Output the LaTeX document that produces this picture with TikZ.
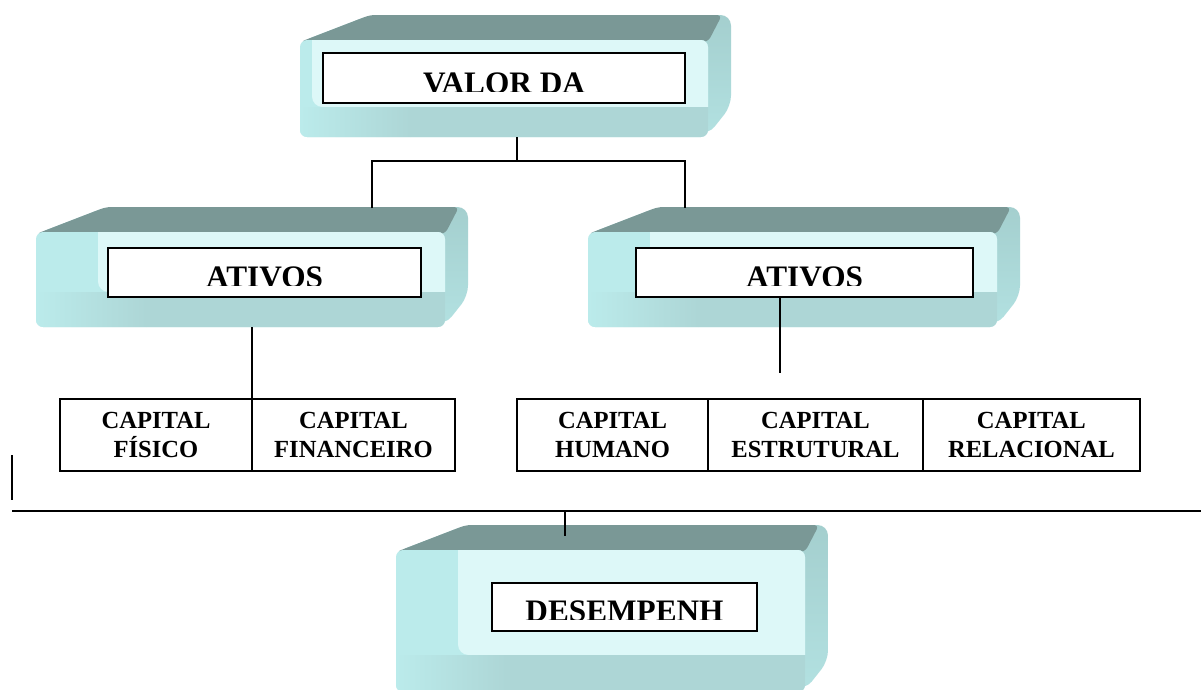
\documentclass[tikz,border=0pt]{standalone}
\usepackage{fontspec}
\setmainfont{Liberation Serif}
\usepackage{tikz}
\usetikzlibrary{positioning}
\definecolor{slabtop}{HTML}{7A9896}
\definecolor{slabside}{HTML}{B2E1E1}
\definecolor{slabbase}{HTML}{BBEBEB}
\definecolor{slablight}{HTML}{DDF8F8}
\definecolor{slabband}{HTML}{ADD6D6}
\tikzset{
  slabfront/.style={rectangle, rounded corners=4pt, fill=slabbase, inner sep=0pt, outer sep=0pt},
  namebox/.style={rectangle, draw=black, line width=1.1pt, fill=white, inner sep=0pt},
  title/.style={font=\fontsize{17.8}{20}\selectfont\bfseries, inner sep=0pt},
  cell/.style={
    rectangle,
    draw=black,
    line width=0.9pt,
    fill=white,
    align=center,
    inner sep=0pt,
    outer sep=0pt,
    minimum height=1.44cm,
    font=\fontsize{14}{16}\selectfont\bfseries
  },
  link/.style={draw=black, line width=0.9pt}
}
% 3-d slab: name, x1, y1, x2, y2, start of light face, top of lower band
\newcommand{\slab}[7]{%
  \shade[top color=slabside!75!slabtop, bottom color=slabside, rounded corners=6pt]
    (#2,#3+2) -- (#2+70,#3-25) -- (#4+23,#3-25) -- (#4+23,#5-31) -- (#4,#5-2) -- cycle;
  \fill[slabtop, rounded corners=3pt]
    (#2,#3+2) -- (#2+70,#3-25) -- (#4+14,#3-25) -- (#4,#3+2) -- cycle;
  \node[slabfront, minimum width=(#4-#2)*0.02cm, minimum height=(#5-#3)*0.02cm]
    (#1) at ({(#2+#4)/2},{(#3+#5)/2}) {};
  \begin{scope}
    \clip[rounded corners=4pt] (#2,#3) rectangle (#4,#5);
    \fill[slablight, rounded corners=6pt] (#6,#3-20) rectangle (#4+20,#7);
    \shade[left color=slabbase, right color=slabband] (#2,#7) rectangle (#2+110,#5+5);
    \fill[slabband] (#2+110,#7) rectangle (#4+5,#5+5);
  \end{scope}
}
% title cut off just above its baseline
\newcommand{\cuttitle}[2]{%
  \begin{scope}
    \clip (#1.north west) rectangle ([yshift=0.25cm]#1.south east);
    \node[title, anchor=base] (#1Text) at ([yshift=0.2cm]#1.south) {#2};
  \end{scope}
}

\begin{document}
\begin{tikzpicture}[x=0.02cm,y=-0.02cm]
\useasboundingbox (0,0) rectangle (1201,690);
\fill[white] (0,0) rectangle (1201,690);
\clip (0,0) rectangle (1201,690);

\slab{valorSlab}{300}{40}{708}{137}{312}{107}
\slab{ativoSlabL}{36}{232}{445}{327}{98}{292}
\slab{ativoSlabR}{588}{232}{997}{327}{650}{292}
\slab{desempSlab}{396}{550}{805}{692}{458}{655}

\node[namebox, minimum width=7.24cm, minimum height=1.0cm] (valorBox) at (504,78) {};
\node[namebox, minimum width=6.26cm, minimum height=0.98cm] (ativoBoxL) at (264.5,272.5) {};
\node[namebox, minimum width=6.74cm, minimum height=0.98cm] (ativoBoxR) at (804.5,272.5) {};
\node[namebox, minimum width=5.3cm, minimum height=0.96cm] (desempBox) at (624.5,607) {};
\cuttitle{valorBox}{VALOR DA}
\cuttitle{ativoBoxL}{ATIVOS}
\cuttitle{ativoBoxR}{ATIVOS}
\cuttitle{desempBox}{DESEMPENH}

\node[cell, minimum width=3.84cm] (fisico) at (156,435) {CAPITAL\\FÍSICO};
\node[cell, minimum width=4.06cm, right=0pt of fisico] (financeiro) {CAPITAL\\FINANCEIRO};
\node[cell, minimum width=3.82cm] (humano) at (612.5,435) {CAPITAL\\HUMANO};
\node[cell, minimum width=4.30cm, right=0pt of humano] (estrutural) {CAPITAL\\ESTRUTURAL};
\node[cell, minimum width=4.34cm, right=0pt of estrutural] (relacional) {CAPITAL\\RELACIONAL};

% connectors
\coordinate (fork) at (517,161);
\coordinate (dropL) at (372,208);
\coordinate (dropR) at (685,208);
\draw[link] (valorSlab.south -| fork) -- (fork);
\draw[link] (dropL) |- (fork) -| (dropR);
\draw[link] (ativoSlabL.south -| fisico.east) -- (fisico.north east);
\coordinate (stubR) at (780,373);
\draw[link] (ativoBoxR.south -| stubR) -- (stubR);
\coordinate (railL) at (12,511);
\coordinate (railR) at (1201,511);
\draw[link] (railL) -- (railR);
\coordinate (tickTop) at (12,455);
\coordinate (tickEnd) at (12,500);
\draw[link] (tickTop) -- (tickEnd);
\coordinate (dropD) at (565,536);
\draw[link] (railL -| dropD) -- (dropD);
\end{tikzpicture}
\end{document}
